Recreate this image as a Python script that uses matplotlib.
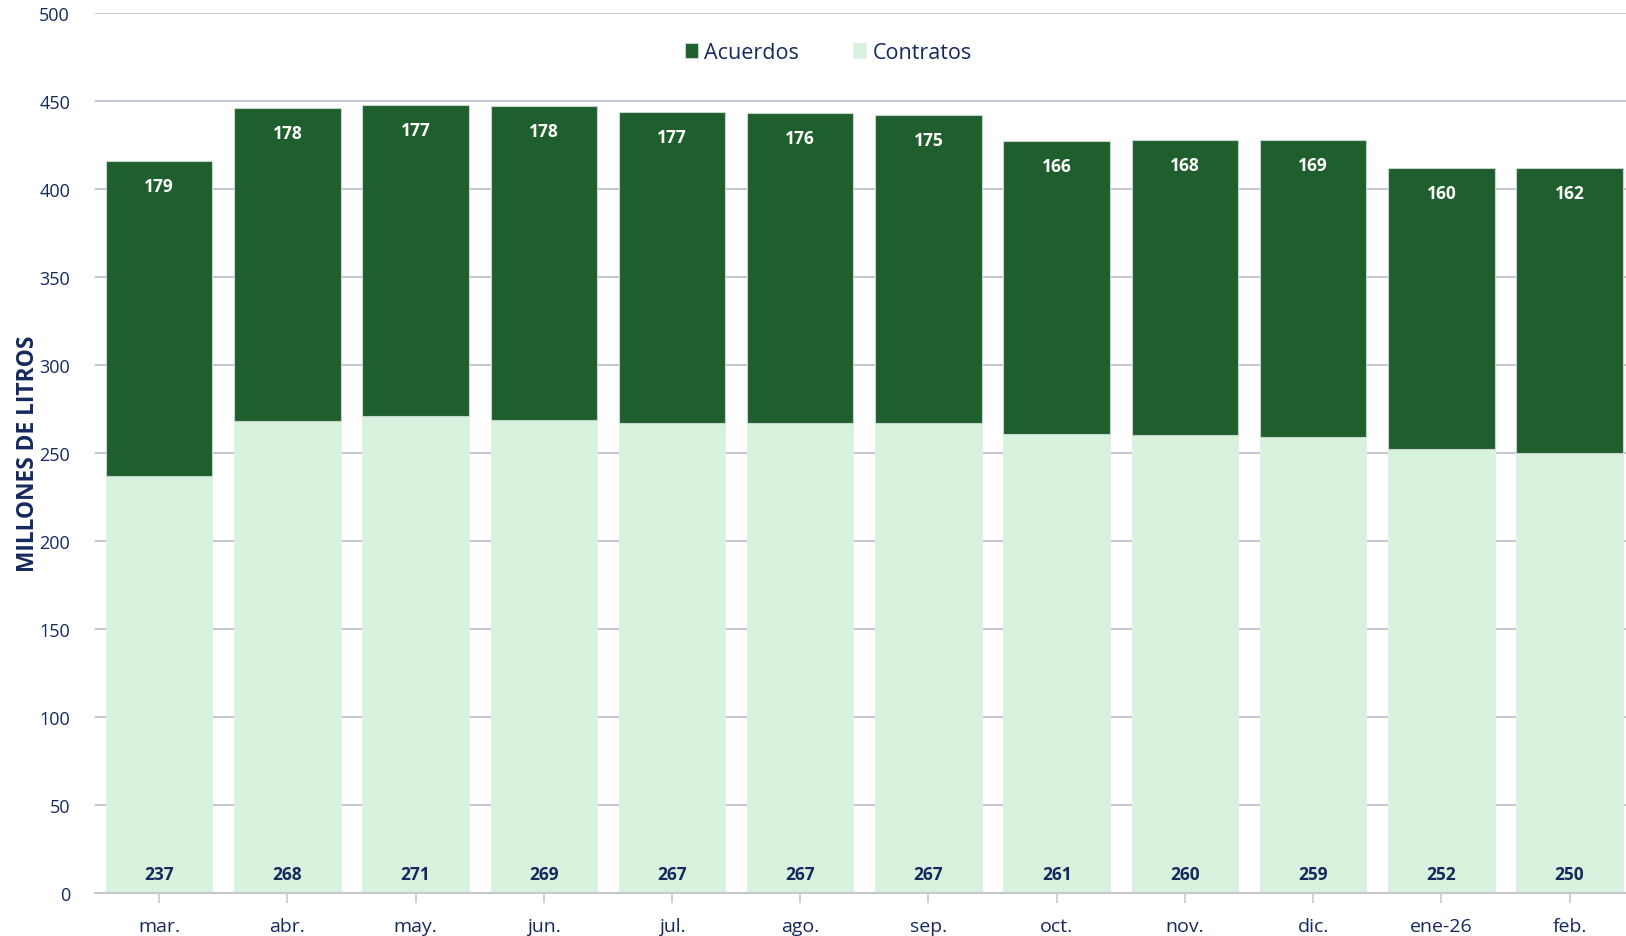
#!/usr/bin/env python3
"""Stacked bars: Contratos + Acuerdos, millones de litros."""

import matplotlib
matplotlib.use("Agg")
import matplotlib.pyplot as plt
import numpy as np

MONTHS = ["mar.", "abr.", "may.", "jun.", "jul.", "ago.", "sep.", "oct.",
          "nov.", "dic.", "ene-26", "feb."]
CONTRATOS = [237, 268, 271, 269, 267, 267, 267, 261, 260, 259, 252, 250]
ACUERDOS = [179, 178, 177, 178, 177, 176, 175, 166, 168, 169, 160, 162]

DARK = "#1F5F2D"
LIGHT = "#D7F2DD"
NAVY = "#15295E"
GRID = "#C3C9D8"

plt.rcParams["font.family"] = ["Open Sans", "DejaVu Sans"]

fig = plt.figure(figsize=(16.26, 9.37), dpi=100)
ax = fig.add_axes([95 / 1626, 1 - 894 / 937, 1 - 95 / 1626, (894 - 14) / 937])

x = np.arange(len(MONTHS))
base = np.array(CONTRATOS)
b1 = ax.bar(x, CONTRATOS, width=0.83, color=LIGHT, edgecolor="#E8EEF0",
            linewidth=0.8, label="Contratos", zorder=2)
b2 = ax.bar(x, ACUERDOS, bottom=base, width=0.83, color=DARK,
            edgecolor="#C8D4CC", linewidth=0.8, label="Acuerdos", zorder=2)

for xi, c, a in zip(x, CONTRATOS, ACUERDOS):
    ax.annotate(str(c), (xi, 0), xytext=(0, 14), textcoords="offset points",
                ha="center", va="center", fontsize=12.5, fontweight="bold",
                color=NAVY)
    ax.annotate(str(a), (xi, c + a), xytext=(0, -18), textcoords="offset points",
                ha="center", va="center", fontsize=12.5, fontweight="bold",
                color="white")

ax.set_ylim(0, 500)
ax.set_xlim(-0.5, 11.44)
ax.set_yticks(range(0, 501, 50))
ax.set_xticks(x)
ax.set_xticklabels(MONTHS)
ax.yaxis.grid(True, color=GRID, linewidth=1.5, zorder=0)
ax.set_axisbelow(True)
for s in ["top", "right", "left"]:
    ax.spines[s].set_visible(False)
ax.spines["bottom"].set_color("#C8C8C8")
ax.spines["bottom"].set_linewidth(1.5)
ax.tick_params(axis="y", length=0, pad=18, labelsize=13, labelcolor=NAVY)
ax.tick_params(axis="x", length=7, width=1.2, color="#C8C8C8", pad=10,
               labelsize=14, labelcolor=NAVY)
ax.set_ylabel("MILLONES DE LITROS", fontsize=16.4, fontweight="bold",
              color=NAVY)
ax.yaxis.set_label_coords(-0.036, 0.5)

handles = [b2, b1]
leg = ax.legend(handles, ["Acuerdos", "Contratos"], loc="center",
                bbox_to_anchor=(0.479, 0.955), ncol=2, frameon=False,
                fontsize=15.5, handlelength=0.6, handleheight=0.7,
                columnspacing=2.5, handletextpad=0.3)
for t in leg.get_texts():
    t.set_color(NAVY)

fig.savefig("out.png", dpi=100)
